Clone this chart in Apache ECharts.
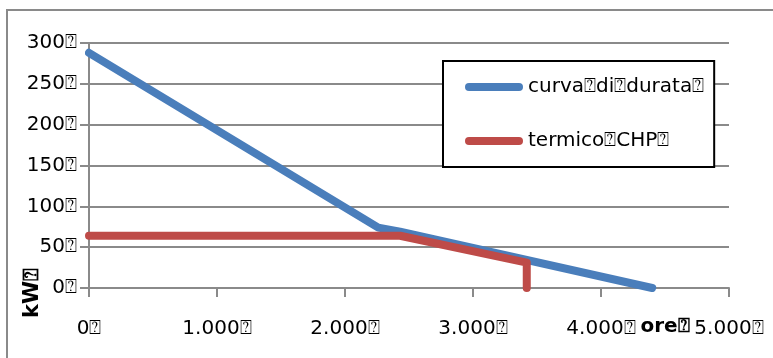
<!DOCTYPE html>
<html>
<head>
<meta charset="utf-8">
<script src="https://cdn.jsdelivr.net/npm/echarts@6/dist/echarts.min.js"></script>
<style>
html,body{margin:0;padding:0;background:#fff;}
#c{width:773px;height:358px;}
</style>
</head>
<body>
<div id="c"></div>
<script>
// ---- data ----
var durationHours = [0, 2260, 2430, 4400];
var durationKW    = [288, 74, 69, 0];
var chpHours      = [0, 2430, 3420, 3420];
var chpKW         = [64, 64, 31, 0];
var xTickLabels   = ['0\u2370', '1.000\u2370', '2.000\u2370', '3.000\u2370', '4.000\u2370', '5.000\u2370'];
var yTickLabels   = ['0\u2370', '50\u2370', '100\u2370', '150\u2370', '200\u2370', '250\u2370', '300\u2370'];
var seriesNames   = ['curva\u2370di\u2370durata\u2370', 'termico\u2370CHP\u2370'];
var xName = 'ore\u2370';
var yName = 'kW\u2370';

function pairs(xs, ys){ return xs.map(function(x,i){ return [x, ys[i]]; }); }

var gray = '#8a8a8a';
var font = 'DejaVu Sans';
var chart = echarts.init(document.getElementById('c'), null, {renderer:'canvas'});
var capsule = 'path://M4,0 L54,0 A4,4 0 0 1 54,8 L4,8 A4,4 0 0 1 4,0 Z';

chart.setOption({
  animation:false,
  backgroundColor:'#fff',
  grid:{left:89, right:44, top:43, bottom:70},
  xAxis:{
    type:'value', min:0, max:5000, interval:1000,
    axisLine:{show:true, lineStyle:{color:gray, width:2}},
    axisTick:{show:true, length:9, lineStyle:{color:gray, width:2}},
    splitLine:{show:false},
    axisLabel:{margin:31, color:'#000', fontFamily:font, fontSize:20,
      formatter:function(v){ return xTickLabels[Math.round(v/1000)]; }}
  },
  yAxis:{
    type:'value', min:0, max:300, interval:50,
    axisLine:{show:true, lineStyle:{color:gray, width:2}},
    axisTick:{show:true, length:9, lineStyle:{color:gray, width:2}},
    splitLine:{show:true, lineStyle:{color:gray, width:2}},
    axisLabel:{margin:12, color:'#000', fontFamily:font, fontSize:20,
      formatter:function(v){ return yTickLabels[Math.round(v/50)]; }}
  },
  legend:{
    show:true, orient:'vertical', left:443, top:61,
    borderColor:'#000', borderWidth:2, backgroundColor:'#fff',
    padding:[16, 10, 16, 22], itemGap:34,
    itemWidth:58, itemHeight:8,
    textStyle:{color:'#000', fontFamily:font, fontSize:20, lineHeight:20},
    data:[{name:seriesNames[0], icon:capsule, itemStyle:{color:'#4a7ebb'}},
          {name:seriesNames[1], icon:capsule, itemStyle:{color:'#be4b48'}}]
  },
  graphic:[
    {type:'rect', shape:{x:7, y:10, width:820, height:400}, style:{fill:null, stroke:gray, lineWidth:2}, z:-1, silent:true},
    {type:'text', x:665, y:327, style:{text:xName, font:'bold 20px "DejaVu Sans"', fill:'#000', align:'center', verticalAlign:'middle'}},
    {type:'text', x:33, y:293, rotation:Math.PI/2, style:{text:yName, font:'bold 21px "DejaVu Sans"', fill:'#000', align:'center', verticalAlign:'middle'}}
  ],
  series:[
    {name:seriesNames[0], type:'line', data:pairs(durationHours, durationKW), showSymbol:false, symbol:'none',
     lineStyle:{color:'#4a7ebb', width:8, cap:'round', join:'round'}, itemStyle:{color:'#4a7ebb'}, z:2},
    {name:seriesNames[1], type:'line', data:pairs(chpHours, chpKW), showSymbol:false, symbol:'none',
     lineStyle:{color:'#be4b48', width:8, cap:'round', join:'round'}, itemStyle:{color:'#be4b48'}, z:3}
  ]
});
</script>
</body>
</html>
